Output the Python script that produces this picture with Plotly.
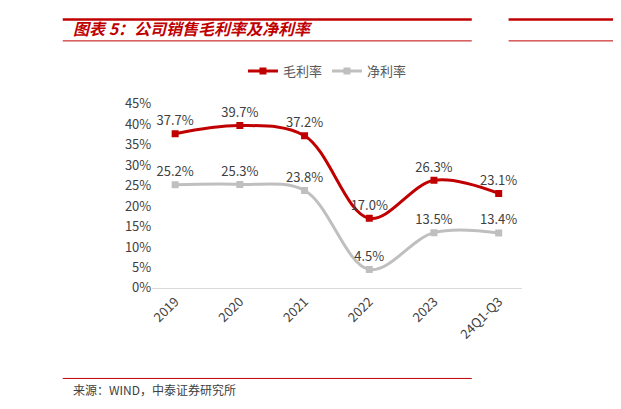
import plotly.graph_objects as go

W, H = 621, 409
years = ['2019', '2020', '2021', '2022', '2023', '24Q1-Q3']
gross = [37.7, 39.7, 37.2, 17.0, 26.3, 23.1]
net = [25.2, 25.3, 23.8, 4.5, 13.5, 13.4]

RED = '#C00000'
GREY = '#BFBFBF'
FONT = 'Noto Sans CJK SC'


def px(x):
    return x / W


def py(y):
    return 1 - y / H


fig = go.Figure()
fig.add_trace(go.Scatter(x=years, y=[v / 100 for v in gross], name='毛利率',
                         mode='lines+markers+text', line=dict(color=RED, width=3, shape='spline'),
                         marker=dict(symbol='square', size=7, color=RED),
                         text=[f'{v:.1f}%' for v in gross], textposition='top center',
                         textfont=dict(size=13, color='#404040')))
fig.add_trace(go.Scatter(x=years, y=[v / 100 for v in net], name='净利率',
                         mode='lines+markers+text', line=dict(color=GREY, width=3, shape='spline'),
                         marker=dict(symbol='square', size=7, color=GREY),
                         text=[f'{v:.1f}%' for v in net], textposition='top center',
                         textfont=dict(size=13, color='#404040')))

lines = [
    (52, 1.5, 463, 1.5, 2.5), (52, 24, 463, 24, 1), (500, 1.5, 621, 1.5, 2.5), (500, 24, 621, 24, 1),
    (52, 378, 463, 378, 1),
]
shapes = [dict(type='line', xref='paper', yref='paper', x0=px(a), y0=py(b), x1=px(c), y1=py(d),
               line=dict(color=RED, width=w)) for a, b, c, d, w in lines]

fig.update_layout(
    width=W, height=H, margin=dict(l=0, r=0, t=0, b=0),
    paper_bgcolor='white', plot_bgcolor='white',
    font=dict(family=FONT, color='#404040', size=13),
    shapes=shapes,
    showlegend=True,
    legend=dict(orientation='h', x=px(318), xanchor='center', y=py(40), yanchor='top',
                font=dict(size=13, color='#595959')),
    xaxis=dict(domain=[px(142), px(513)], tickangle=-45, showgrid=False, showline=True,
               linecolor='#D9D9D9', tickfont=dict(size=13, color='#404040')),
    yaxis=dict(domain=[py(283), py(90)], range=[0, 0.45], dtick=0.05, tickformat='.0%',
               showgrid=False, showline=False, zeroline=False, tickfont=dict(size=13, color='#404040')),
    annotations=[
        dict(text='<b><i>图表 5：公司销售毛利率及净利率</i></b>', xref='paper', yref='paper',
             x=px(60), y=py(10), xanchor='left', yanchor='middle', showarrow=False,
             font=dict(size=16, color=RED)),
        dict(text='来源：WIND，中泰证券研究所', xref='paper', yref='paper',
             x=px(60), y=py(390), xanchor='left', yanchor='middle', showarrow=False,
             font=dict(size=12, color='#404040')),
    ],
)
fig.write_html('out.html')
